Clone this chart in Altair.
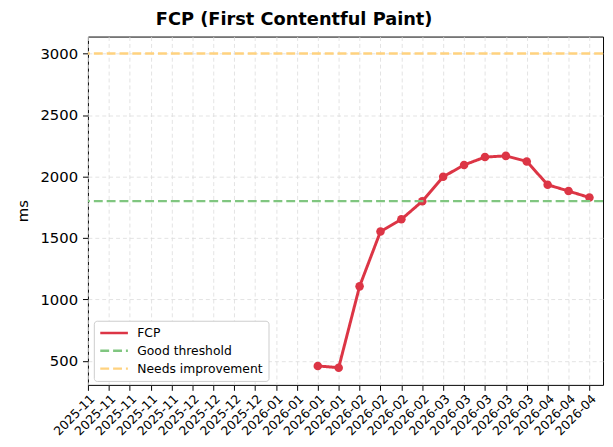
import altair as alt
import pandas as pd

week_labels = [
    "2025-11", "2025-11", "2025-11", "2025-11", "2025-11",
    "2025-12", "2025-12", "2025-12", "2025-12",
    "2026-01", "2026-01", "2026-01", "2026-01",
    "2026-02", "2026-02", "2026-02", "2026-02",
    "2026-03", "2026-03", "2026-03", "2026-03", "2026-03",
    "2026-04", "2026-04", "2026-04",
]
fcp_values = [
    None, None, None, None, None, None, None, None, None, None, None,
    460, 446, 1107, 1553, 1652, 1799, 1998, 2094, 2158, 2168, 2123, 1933, 1882, 1829,
]
series_names = ["FCP", "Good threshold", "Needs improvement"]
threshold_values = [1800, 3000]
y_ticks = [500, 1000, 1500, 2000, 2500, 3000]

df_line = pd.DataFrame({
    "idx": list(range(len(week_labels))),
    "week": week_labels,
    "ms": fcp_values,
    "series": series_names[0],
})
df_rule = pd.DataFrame({"series": series_names[1:], "ms": threshold_values})

label_expr = "[" + ",".join(f"'{w}'" for w in week_labels) + "][datum.value]"

color = alt.Color(
    "series:N",
    scale=alt.Scale(domain=series_names, range=["#dc3545", "#80c680", "#ffd27f"]),
    legend=alt.Legend(
        title=None, orient="none", legendX=6, legendY=288,
        symbolType="stroke", symbolStrokeWidth=2.5, symbolSize=784,
        labelFontSize=12.5, labelFont="DejaVu Sans", labelColor="black",
        fillColor="white", strokeColor="#cccccc", cornerRadius=3,
        padding=5, rowPadding=3, labelOffset=8, clipHeight=15,
    ),
)
dash = alt.StrokeDash(
    "series:N",
    scale=alt.Scale(domain=series_names, range=[[1, 0], [9, 4], [9, 4]]),
    legend=None,
)

x_enc = alt.X(
    "idx:Q",
    scale=alt.Scale(domain=[0, 24.65], nice=False, zero=False),
    axis=alt.Axis(
        values=list(range(len(week_labels))), labelExpr=label_expr,
        labelAngle=315, labelAlign="right", labelBaseline="top",
        labelFontSize=12.5, labelPadding=2, title=None,
        labelOverlap=False, labelFlush=False, labelBound=False,
    ),
)
y_enc = alt.Y(
    "ms:Q",
    scale=alt.Scale(domain=[306, 3138], nice=False, zero=False),
    axis=alt.Axis(values=y_ticks, format="d", labelFontSize=15, title="ms",
                  titleFontSize=15, titleFontWeight="normal", titlePadding=10,
                  labelPadding=5, labelOverlap=False, labelFlush=False),
)

line = alt.Chart(df_line).mark_line(
    strokeWidth=3, point=alt.OverlayMarkDef(size=75, filled=True, opacity=1)
).encode(x=x_enc, y=y_enc, color=color, strokeDash=dash)

rules = alt.Chart(df_rule).mark_rule(strokeWidth=2.5).encode(
    y=alt.Y("ms:Q"), color=color, strokeDash=dash
)

chart = alt.layer(line, rules).properties(
    width=522, height=353,
    title=alt.TitleParams("FCP (First Contentful Paint)", fontSize=18,
                          fontWeight="bold", font="DejaVu Sans", anchor="middle",
                          dx=-52, offset=8, color="black"),
    autosize=alt.AutoSizeParams(type="none"),
    padding={"left": 81, "top": 26, "right": 2, "bottom": 60},
).configure_view(
    stroke="black", strokeWidth=1
).configure_axis(
    domain=False, tickColor="black", tickSize=5.5, labelColor="black",
    labelFont="DejaVu Sans", titleFont="DejaVu Sans", titleColor="black",
    grid=True, gridColor="#dcdcdc", gridDash=[4, 3], gridWidth=0.8,
)

chart.save("out.html", embed_options={"renderer": "svg", "actions": False})
